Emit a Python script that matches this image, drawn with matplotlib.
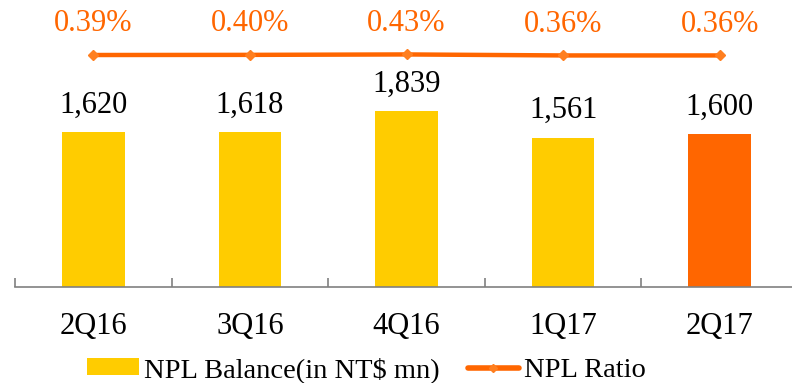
import matplotlib
matplotlib.use("Agg")
import matplotlib.pyplot as plt
from matplotlib.patches import Patch
from matplotlib.lines import Line2D

categories = ["2Q16", "3Q16", "4Q16", "1Q17", "2Q17"]
npl_balance = [1620, 1618, 1839, 1561, 1600]
npl_ratio = [0.39, 0.40, 0.43, 0.36, 0.36]
balance_labels = ["1,620", "1,618", "1,839", "1,561", "1,600"]
ratio_labels = ["0.39%", "0.40%", "0.43%", "0.36%", "0.36%"]

YELLOW = "#FFCC00"
ORANGE = "#FF6600"

plt.rcParams['font.family'] = ['Liberation Serif', 'DejaVu Serif']

W, H = 792, 383
fig = plt.figure(figsize=(W / 100, H / 100), dpi=100)
ax = fig.add_axes([15 / W, (H - 287) / H, 783 / W, (287 - 10) / H])

x = list(range(len(categories)))
colors = [YELLOW] * (len(categories) - 1) + [ORANGE]
bars = ax.bar(x, npl_balance, width=0.4, color=colors, zorder=2)
ax.set_xlim(-0.5, len(categories) - 0.5)
ax.set_ylim(0, 277 / (155 / 1620))

for xi, v, lab in zip(x, npl_balance, balance_labels):
    ax.annotate(lab, (xi, v), xytext=(0, 9), textcoords="offset points",
                ha="center", va="bottom", fontsize=22, color="black")

for s in ["top", "left", "right"]:
    ax.spines[s].set_visible(False)
ax.spines["bottom"].set_color("#808080")
ax.spines["bottom"].set_linewidth(1.2)
ax.set_yticks([])
ax.set_xticks(x)
ax.set_xticklabels(categories, fontsize=22)
ax.tick_params(axis="x", which="major", length=0, pad=18)
ax.set_xticks([i - 0.5 for i in range(len(categories) + 1)], minor=True)
ax.tick_params(axis="x", which="minor", direction="in", length=6.5,
               color="#808080", width=1.2)

ax2 = ax.twinx()
R = 19.4
ymin = 0.39 - 0.8375 * R
ax2.set_ylim(ymin, ymin + R)
ax2.plot(x, npl_ratio, color=ORANGE, lw=3.2, marker="D", markersize=5,
         markerfacecolor="#FF7F1F", markeredgecolor="#FF7F1F", zorder=3,
         solid_capstyle="round")
for xi, v, lab in zip(x, npl_ratio, ratio_labels):
    ax2.annotate(lab, (xi, v), xytext=(0, 12), textcoords="offset points",
                 ha="center", va="bottom", fontsize=22, color=ORANGE)
ax2.axis("off")

handles = [Patch(facecolor=YELLOW, edgecolor="none"),
           Line2D([0], [0], color=ORANGE, lw=4, marker="D", markersize=4,
                  markerfacecolor="#FF7F1F", markeredgecolor="#FF7F1F",
                  solid_capstyle="round")]
fig.legend(handles, ["NPL Balance(in NT$ mn)", "NPL Ratio"], loc="center",
           bbox_to_anchor=(0.463, 0.034), ncol=2, frameon=False, fontsize=20.5,
           handlelength=1.8, handleheight=0.55, handletextpad=0.18,
           columnspacing=1.0, borderaxespad=0, borderpad=0)

fig.savefig("out.png", dpi=100)
